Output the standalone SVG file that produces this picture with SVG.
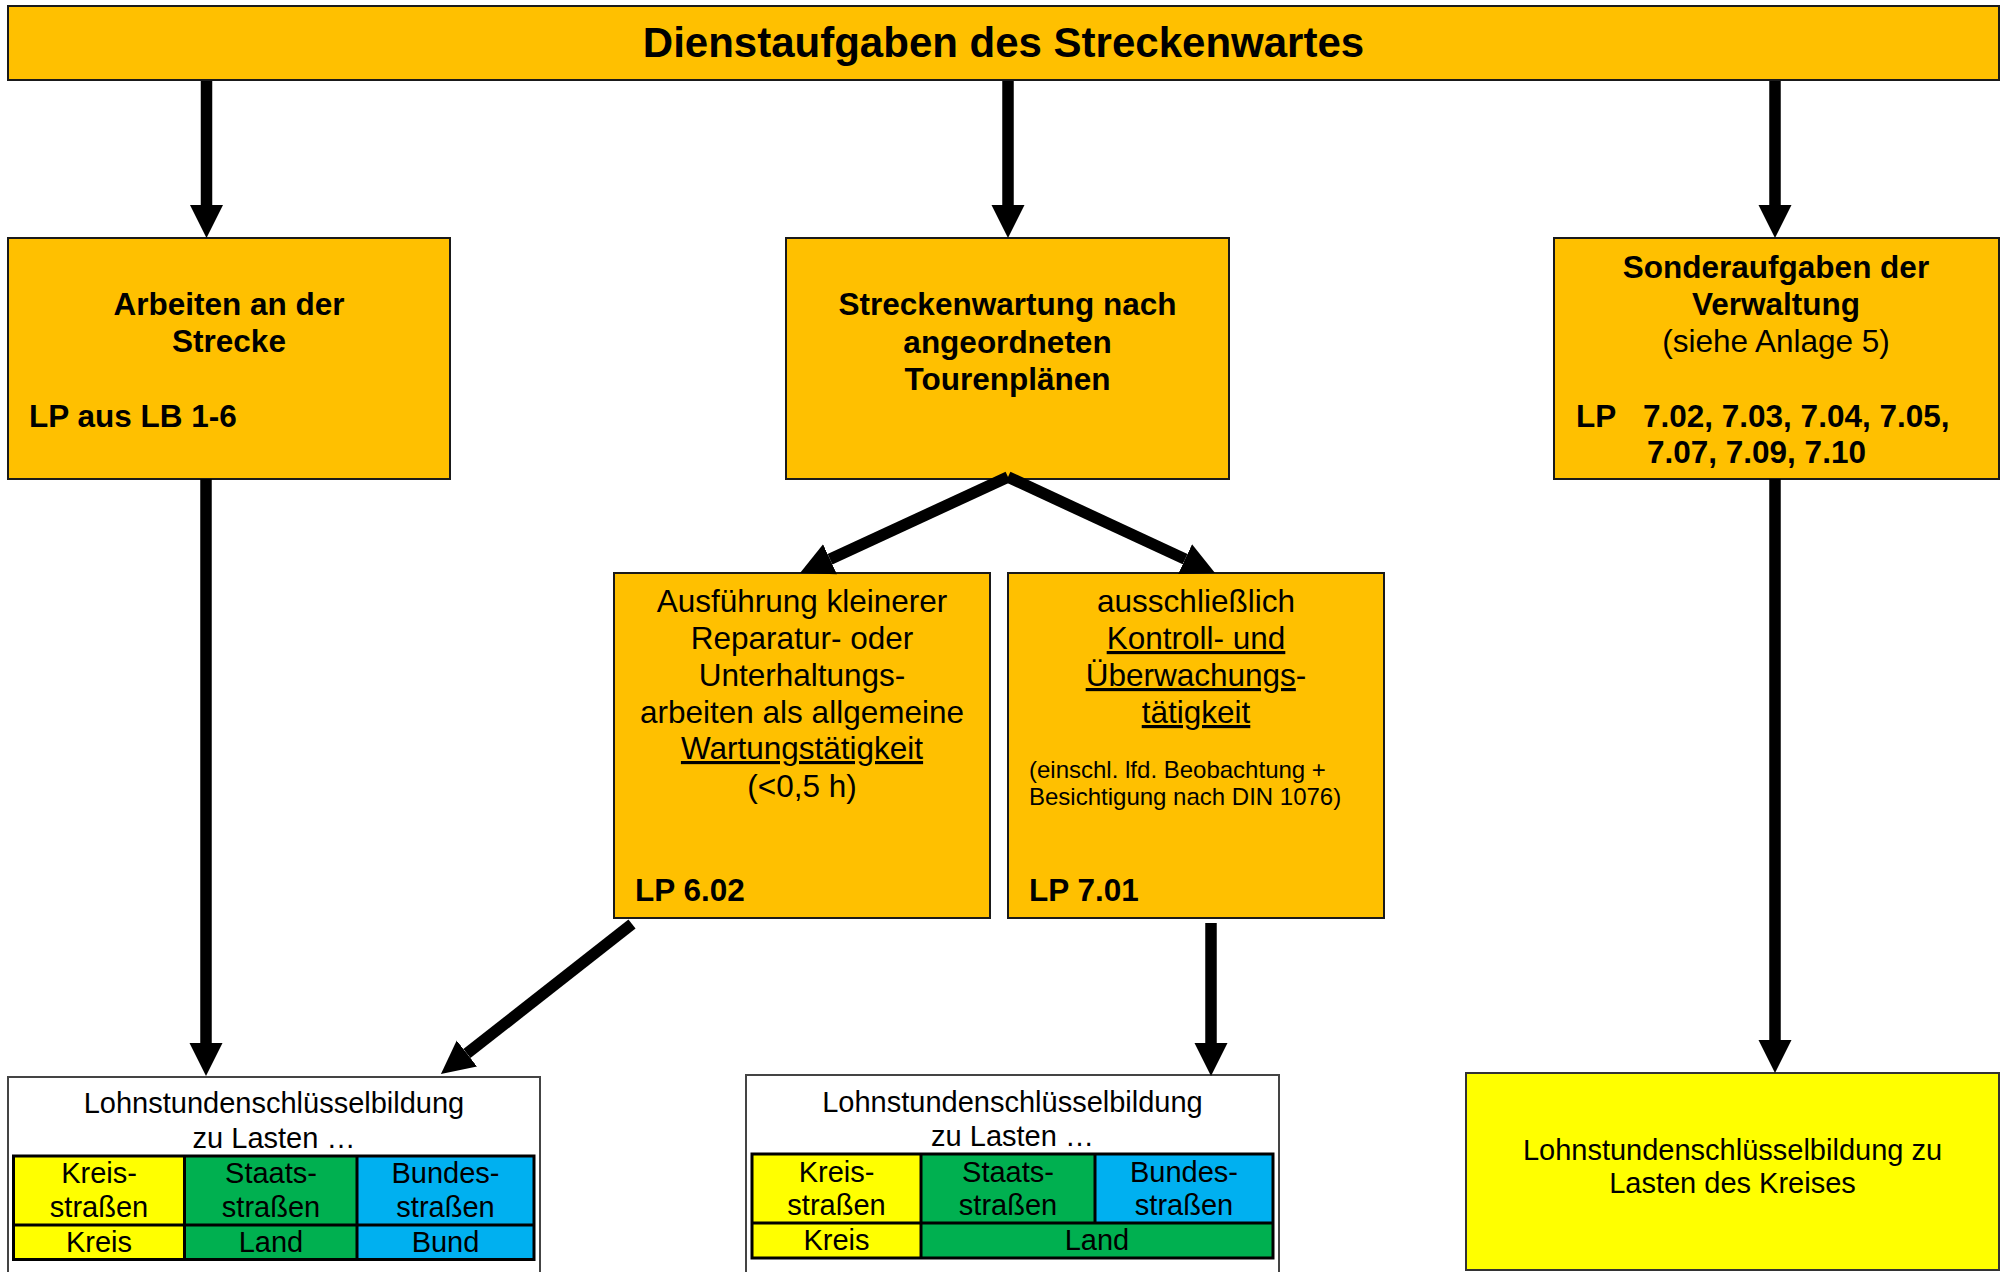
<svg xmlns="http://www.w3.org/2000/svg" width="2009" height="1272" viewBox="0 0 2009 1272">
<style>
  text { font-family: "Liberation Sans", Arial, sans-serif; fill: #000; }
  .box { fill: #FFC000; stroke: #1a1a1a; stroke-width: 2; }
  .wbox { fill: #FFFFFF; stroke: #444; stroke-width: 2; }
  .ybox { fill: #FFFF00; stroke: #333; stroke-width: 2; }
  .b { font-weight: bold; font-size: 31.5px; }
  .r { font-size: 31.5px; }
  .s { font-size: 24px; }
  .t { font-size: 29px; }
  .c { text-anchor: middle; }
  .u { text-decoration: underline; }
  .yel { fill: #FFFF00; }
  .grn { fill: #00B050; }
  .blu { fill: #00B0F0; }
  .grid { fill: none; stroke: #000; stroke-width: 3; }
  .conn line { stroke: #000; stroke-width: 11.5; stroke-linecap: butt; marker-end: url(#ah); }
</style>
<defs>
  <marker id="ah" markerUnits="userSpaceOnUse" markerWidth="34" markerHeight="34" viewBox="0 -17 34 34" refX="0" refY="0" orient="auto">
    <path d="M0,-16.5 L33,0 L0,16.5 z" fill="#000"/>
  </marker>
</defs>
<rect width="2009" height="1272" fill="#FFFFFF"/>

<g id="title">
  <rect class="box" x="8" y="6" width="1991" height="74"/>
  <text x="1003.5" y="57" class="c" style="font-weight:bold;font-size:42px">Dienstaufgaben des Streckenwartes</text>
</g>

<g id="arbeiten">
  <rect class="box" x="8" y="238" width="442" height="241"/>
  <text class="b c" x="229" y="315">Arbeiten an der</text>
  <text class="b c" x="229" y="352">Strecke</text>
  <text class="b" x="29" y="427">LP aus LB 1-6</text>
</g>

<g id="streckenwartung">
  <rect class="box" x="786" y="238" width="443" height="241"/>
  <text class="b c" x="1007.5" y="315">Streckenwartung nach</text>
  <text class="b c" x="1007.5" y="352.5">angeordneten</text>
  <text class="b c" x="1007.5" y="390">Tourenplänen</text>
</g>

<g id="sonderaufgaben">
  <rect class="box" x="1554" y="238" width="445" height="241"/>
  <text class="b c" x="1776" y="278">Sonderaufgaben der</text>
  <text class="b c" x="1776" y="315">Verwaltung</text>
  <text class="r c" x="1776" y="352">(siehe Anlage 5)</text>
  <text class="b" x="1576" y="427">LP</text>
  <text class="b" x="1643" y="427">7.02, 7.03, 7.04, 7.05,</text>
  <text class="b" x="1647" y="463">7.07, 7.09, 7.10</text>
</g>

<g id="wartung">
  <rect class="box" x="614" y="573" width="376" height="345"/>
  <text class="r c" x="802" y="612">Ausführung kleinerer</text>
  <text class="r c" x="802" y="649">Reparatur- oder</text>
  <text class="r c" x="802" y="686">Unterhaltungs-</text>
  <text class="r c" x="802" y="723">arbeiten als allgemeine</text>
  <text class="r c u" x="802" y="759">Wartungstätigkeit</text>
  <text class="r c" x="802" y="797">(&lt;0,5 h)</text>
  <text class="b" x="635" y="901">LP 6.02</text>
</g>

<g id="kontrolle">
  <rect class="box" x="1008" y="573" width="376" height="345"/>
  <text class="r c" x="1196" y="612">ausschließlich</text>
  <text class="r c u" x="1196" y="649">Kontroll- und</text>
  <text class="r c" x="1196" y="686"><tspan class="u">Überwachungs</tspan>-</text>
  <text class="r c u" x="1196" y="723">tätigkeit</text>
  <text class="s" x="1029" y="778">(einschl. lfd. Beobachtung +</text>
  <text class="s" x="1029" y="805">Besichtigung nach DIN 1076)</text>
  <text class="b" x="1029" y="901">LP 7.01</text>
</g>

<g id="schluessel-links">
  <rect class="wbox" x="8" y="1077" width="532" height="205"/>
  <text class="t c" x="274" y="1113">Lohnstundenschlüsselbildung</text>
  <text class="t c" x="274" y="1148">zu Lasten …</text>
  <rect class="yel" x="13.5" y="1156" width="171" height="103.5"/>
  <rect class="grn" x="184.5" y="1156" width="172.5" height="103.5"/>
  <rect class="blu" x="357" y="1156" width="177" height="103.5"/>
  <rect class="grid" x="13.5" y="1156" width="520.5" height="103.5"/>
  <line class="grid" x1="13.5" y1="1225" x2="534" y2="1225"/>
  <line class="grid" x1="184.5" y1="1156" x2="184.5" y2="1259.5"/>
  <line class="grid" x1="357" y1="1156" x2="357" y2="1259.5"/>
  <text class="t c" x="99" y="1183">Kreis-</text>
  <text class="t c" x="99" y="1217">straßen</text>
  <text class="t c" x="271" y="1183">Staats-</text>
  <text class="t c" x="271" y="1217">straßen</text>
  <text class="t c" x="445.5" y="1183">Bundes-</text>
  <text class="t c" x="445.5" y="1217">straßen</text>
  <text class="t c" x="99" y="1252">Kreis</text>
  <text class="t c" x="271" y="1252">Land</text>
  <text class="t c" x="445.5" y="1252">Bund</text>
</g>

<g id="schluessel-mitte">
  <rect class="wbox" x="746" y="1075" width="533" height="207"/>
  <text class="t c" x="1012.5" y="1112">Lohnstundenschlüsselbildung</text>
  <text class="t c" x="1012.5" y="1146">zu Lasten …</text>
  <rect class="yel" x="752" y="1154" width="169" height="104"/>
  <rect class="grn" x="921" y="1154" width="352" height="104"/>
  <rect class="blu" x="1095" y="1154" width="178" height="69"/>
  <rect class="grid" x="752" y="1154" width="521" height="104"/>
  <line class="grid" x1="752" y1="1223" x2="1273" y2="1223"/>
  <line class="grid" x1="921" y1="1154" x2="921" y2="1258"/>
  <line class="grid" x1="1095" y1="1154" x2="1095" y2="1223"/>
  <text class="t c" x="836.5" y="1182">Kreis-</text>
  <text class="t c" x="836.5" y="1215">straßen</text>
  <text class="t c" x="1008" y="1182">Staats-</text>
  <text class="t c" x="1008" y="1215">straßen</text>
  <text class="t c" x="1184" y="1182">Bundes-</text>
  <text class="t c" x="1184" y="1215">straßen</text>
  <text class="t c" x="836.5" y="1250">Kreis</text>
  <text class="t c" x="1097" y="1250">Land</text>
</g>

<g id="schluessel-rechts">
  <rect class="ybox" x="1466" y="1073" width="533" height="197"/>
  <text class="t c" x="1732.5" y="1160">Lohnstundenschlüsselbildung zu</text>
  <text class="t c" x="1732.5" y="1193">Lasten des Kreises</text>
</g>

<g id="connectors" class="conn">
  <line x1="206.5" y1="81" x2="206.5" y2="205"/>
  <line x1="1008" y1="81" x2="1008" y2="205"/>
  <line x1="1775" y1="81" x2="1775" y2="205"/>
  <line x1="206" y1="479" x2="206" y2="1043"/>
  <line x1="1775" y1="479" x2="1775" y2="1040"/>
  <line x1="1008" y1="477" x2="830" y2="559.2"/>
  <line x1="1008" y1="477" x2="1185.1" y2="559.1"/>
  <line x1="632" y1="924" x2="466.9" y2="1053.6"/>
  <line x1="1211" y1="923" x2="1211" y2="1043"/>
</g>
</svg>
